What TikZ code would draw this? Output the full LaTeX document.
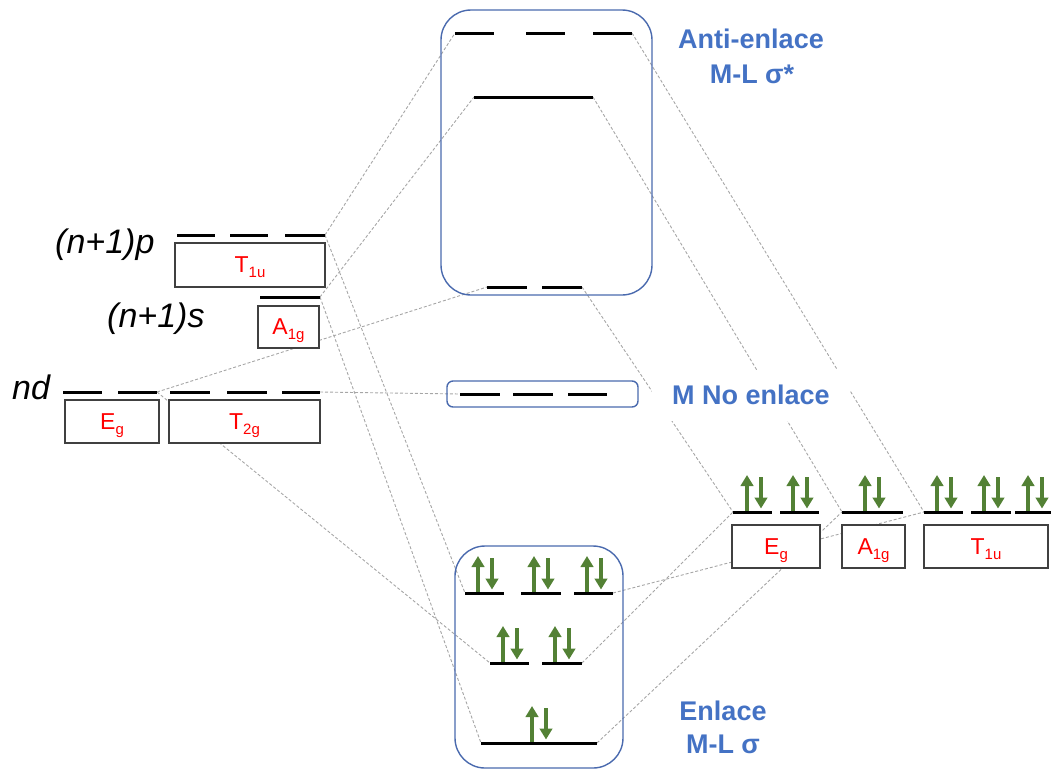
\documentclass[tikz,border=0pt]{standalone}
\usepackage{fontspec}
\setmainfont{Liberation Sans}
\usetikzlibrary{arrows.meta}
\definecolor{titleblue}{HTML}{4472C4}
\definecolor{frameblue}{HTML}{4A6AAE}
\definecolor{spingreen}{HTML}{538135}
\definecolor{linkgray}{HTML}{A6A6A6}
\definecolor{symred}{HTML}{FF0000}
\pgfdeclarelayer{bg}
\pgfsetlayers{bg,main}

% symmetry label with subscript (subscript kept out of the box size)
\newcommand\irrep[2]{#1\raisebox{-5pt}[0pt][0pt]{\fontsize{15}{15}\selectfont #2}}
% energy level: name, x start, x end, y
\newcommand\mlevel[4]{\coordinate (#1-l) at (#2,#4);\coordinate (#1-r) at (#3,#4);\draw[level] (#1-l) -- (#1-r);}
% paired electrons above a level: centre x, level y
\newcommand\spinpair[2]{\draw[spin] (#1-7,#2-1.5) -- (#1-7,#2-37);\draw[spin] (#1+7,#2-35) -- (#1+7,#2-3.5);}

\begin{document}
\begin{tikzpicture}[x=1pt,y=-1pt,
  level/.style={line width=3pt,black},
  link/.style={draw=linkgray,line width=0.9pt,dash pattern=on 3pt off 2pt},
  symbox/.style={draw=black!75,line width=1.3pt,fill=white,inner sep=0pt,text=symred,font=\fontsize{23}{23}\selectfont},
  group/.style={draw=frameblue,line width=1.4pt,inner sep=0pt},
  heading/.style={text=titleblue,font=\bfseries\fontsize{27}{27}\selectfont,anchor=base,inner sep=0pt},
  orbital/.style={font=\itshape\fontsize{34}{34}\selectfont,anchor=base west,inner sep=0pt},
  spin/.style={draw=spingreen,line width=3.2pt,-{Triangle[width=12.5pt 0,length=11pt 0]}}]

\useasboundingbox (0,0) rectangle (1051,769);
\clip (0,0) rectangle (1051,769);

% ---- metal orbitals ----
\node[orbital] (lp) at (55,253) {(n+1)p};
\node[orbital] (ls) at (107,327) {(n+1)s};
\node[orbital] (ld) at (12,399) {nd};

\mlevel{p1}{177}{215}{235}
\mlevel{p2}{230}{268}{235}
\mlevel{p3}{285}{325}{235}
\node[symbox,minimum width=150pt,minimum height=44pt] (mT1u) at (250,265) {\irrep{T}{1u}};

\mlevel{s1}{260}{320}{297}
\node[symbox,minimum width=61pt,minimum height=42pt] (mA1g) at (288.5,327) {\irrep{A}{1g}};

\mlevel{d1}{63}{102}{392}
\mlevel{d2}{118}{157}{392}
\mlevel{d3}{170}{210}{392}
\mlevel{d4}{227}{267}{392}
\mlevel{d5}{282}{320}{392}
\node[symbox,minimum width=94pt,minimum height=43pt] (mEg) at (112,421.5) {\irrep{E}{g}};
\node[symbox,minimum width=151pt,minimum height=43pt] (mT2g) at (244.5,421.5) {\irrep{T}{2g}};

% ---- antibonding set ----
\node[group,rounded corners=30pt,minimum width=211pt,minimum height=285pt] (anti) at (546.5,152.5) {};
\mlevel{a1}{455}{494}{33}
\mlevel{a2}{526}{565}{33}
\mlevel{a3}{593}{632}{33}
\mlevel{aA}{474}{593}{97}
\mlevel{aE1}{487}{527}{287}
\mlevel{aE2}{542}{582}{287}

% ---- non-bonding set ----
\node[group,rounded corners=6pt,minimum width=191pt,minimum height=26pt] (nonb) at (542.5,394) {};
\mlevel{n1}{460}{500}{394}
\mlevel{n2}{513}{553}{394}
\mlevel{n3}{568}{607}{394}

% ---- bonding set ----
\node[group,rounded corners=30pt,minimum width=168pt,minimum height=222pt] (bond) at (539,657) {};
\mlevel{b1}{465}{504}{593}
\mlevel{b2}{521}{561}{593}
\mlevel{b3}{574}{613}{593}
\mlevel{bE1}{490}{529}{663}
\mlevel{bE2}{542}{582}{663}
\mlevel{bA}{481}{597}{743}
\spinpair{485}{593}
\spinpair{541}{593}
\spinpair{594}{593}
\spinpair{510}{663}
\spinpair{562}{663}
\spinpair{539}{743}

% ---- ligand orbitals ----
\mlevel{lE1}{733}{772}{512}
\mlevel{lE2}{780}{819}{512}
\mlevel{lA}{842}{903}{512}
\mlevel{lT1}{924}{963}{512}
\mlevel{lT2}{971}{1011}{512}
\mlevel{lT3}{1015}{1054}{512}
\spinpair{754}{512}
\spinpair{800}{512}
\spinpair{872}{512}
\spinpair{944}{512}
\spinpair{991}{512}
\spinpair{1035}{512}
\node[symbox,minimum width=88pt,minimum height=43pt] (lEg) at (776,546.5) {\irrep{E}{g}};
\node[symbox,minimum width=63pt,minimum height=43pt] (lA1g) at (873.5,546.5) {\irrep{A}{1g}};
\node[symbox,minimum width=124pt,minimum height=43pt] (lT1u) at (986,546.5) {\irrep{T}{1u}};

% ---- headings ----
\node[heading] (hanti) at (751,48) {Anti-enlace};
\node[heading] (hantis) at (752,83) {M-L σ*};
\node[heading,anchor=center,fill=white,minimum width=198pt,minimum height=51pt] (hnon) at (751,395) {M No enlace};
\node[heading] (hbond) at (723,720) {Enlace};
\node[heading] (hbonds) at (723,753) {M-L σ};

% ---- correlation lines ----
\begin{pgfonlayer}{bg}
\draw[link] (p3-r) -- (a1-l);
\draw[link] (p3-r) -- (b1-l);
\draw[link] (s1-r) -- (aA-l);
\draw[link] (s1-r) -- (bA-l);
\draw[link] (d2-r) -- (aE1-l);
\draw[link] (d2-r) -- (bE1-l);
\draw[link] (d5-r) -- (n1-l);
\draw[link] (aE2-r) -- (lE1-l);
\draw[link] (aA-r) -- (lA-l);
\draw[link] (a3-r) -- (lT1-l);
\draw[link] (b3-r) -- (lT1-l);
\draw[link] (bE2-r) -- (lE1-l);
\draw[link] (bA-r) -- (lA-l);
\end{pgfonlayer}
\end{tikzpicture}
\end{document}
